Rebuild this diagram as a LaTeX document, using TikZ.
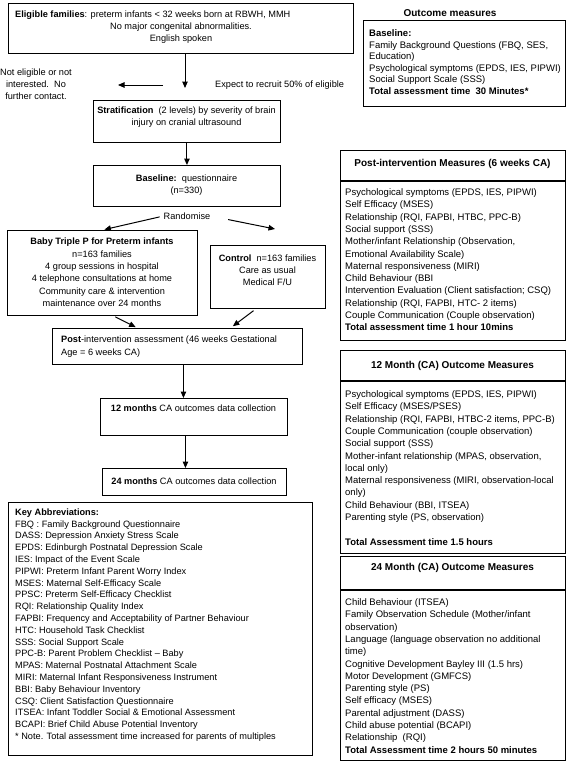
\documentclass[tikz,border=0pt]{standalone}
\usepackage{fontspec}
\setmainfont{Liberation Sans}
\usetikzlibrary{arrows.meta,positioning,calc}

\begin{document}
\begin{tikzpicture}[x=1pt,y=-1pt,
  box/.style={draw, line width=0.9pt, inner sep=0pt, anchor=north west},
  obox/.style={box, line width=1.2pt},
  txt/.style={font=\fontsize{9.2}{12.3}\selectfont, inner sep=0pt},
  otxt/.style={font=\fontsize{9.5}{12.3}\selectfont, inner sep=0pt, anchor=north west, align=left},
  head/.style={font=\fontsize{10}{12}\selectfont\bfseries, inner sep=0pt},
  keytxt/.style={font=\fontsize{9.2}{11.8}\selectfont, inner sep=0pt, align=left},
  arr/.style={-{Triangle[length=6.5pt,width=5.5pt]}, line width=1pt}]
\useasboundingbox (0,0) rectangle (567,763);
\fill[white] (0,0) rectangle (567,763);

\node[box, minimum width=345pt, minimum height=50pt] (elig) at (8,3) {};
\node[txt, anchor=north west] (eligA) at (15,10.5) {\textbf{Eligible families}: preterm infants < 32 weeks born at RBWH, MMH};
\node[txt, anchor=north, align=center] (eligB) at (181,22.5) {No major congenital abnormalities.\\English spoken};

\node[txt, anchor=north, align=center] (notel) at (36,68.5) {Not eligible or not\\interested.\ \ No\\further contact.};
\node[txt, anchor=west] (expect) at (215,85) {Expect to recruit 50\% of eligible};
\coordinate (exclude) at (118,85);

\node[box, minimum width=187pt, minimum height=42pt] (strat) at (93,100) {};
\node[txt, anchor=north, align=center] (strattxt) at (186.5,106.5) {\textbf{Stratification}\ \ (2 levels) by severity of brain\\injury on cranial ultrasound};

\node[box, minimum width=187pt, minimum height=41pt] (base) at (93,165) {};
\node[txt, anchor=north, align=center] (basetxt) at (186.5,174.5) {\textbf{Baseline:}\ \ questionnaire\\(n=330)};

\node[txt] (rand) at (187,216) {Randomise};

\node[box, minimum width=190pt, minimum height=85pt] (baby) at (7,230) {};
\node[txt, anchor=north, align=center] (babytxt) at (102,238) {\textbf{Baby Triple P for Preterm infants}\\n=163 families\\4 group sessions in hospital\\4 telephone consultations at home\\Community care \& intervention\\maintenance over 24 months};

\node[box, minimum width=115pt, minimum height=63pt] (ctrl) at (210,245) {};
\node[txt, anchor=north, align=center] (ctrltxt) at (267.5,254.5) {\textbf{Control}\ \ n=163 families\\Care as usual\\Medical F/U};
\coordinate (ctrlin) at (275,229);

\node[box, minimum width=250pt, minimum height=36pt] (post) at (52,328) {};
\node[txt, anchor=north west, align=left] (posttxt) at (61,336) {\textbf{Post}-intervention assessment (46 weeks Gestational\\Age = 6 weeks CA)};

\node[box, minimum width=187pt, minimum height=37pt] (twelve) at (100,398) {};
\node[txt, anchor=north] (twelvetxt) at (193.5,405) {\textbf{12 months} CA outcomes data collection};

\node[box, minimum width=184pt, minimum height=27pt] (twfour) at (102,468) {};
\node[txt] (twfourtxt) at (194,481.5) {\textbf{24 months} CA outcomes data collection};

\node[box, minimum width=304pt, minimum height=253pt] (key) at (8,502) {};
\node[keytxt, anchor=north west] (keytxt) at (15,508.5) {\textbf{Key Abbreviations:}\\
FBQ : Family Background Questionnaire\\
DASS: Depression Anxiety Stress Scale\\
EPDS: Edinburgh Postnatal Depression Scale\\
IES: Impact of the Event Scale\\
PIPWI: Preterm Infant Parent Worry Index\\
MSES: Maternal Self-Efficacy Scale\\
PPSC: Preterm Self-Efficacy Checklist\\
RQI: Relationship Quality Index\\
FAPBI: Frequency and Acceptability of Partner Behaviour\\
HTC: Household Task Checklist\\
SSS: Social Support Scale\\
PPC-B: Parent Problem Checklist -- Baby\\
MPAS: Maternal Postnatal Attachment Scale\\
MIRI: Maternal Infant Responsiveness Instrument\\
BBI: Baby Behaviour Inventory\\
CSQ: Client Satisfaction Questionnaire\\
ITSEA: Infant Toddler Social \& Emotional Assessment\\
BCAPI: Brief Child Abuse Potential Inventory\\
* Note. Total assessment time increased for parents of multiples};

\draw[arr] (elig.south -| 185,0) -- (185,88);
\draw[arr] (163,85) -- (exclude);
\draw[arr] (strat.south) -- (base.north);
\draw[arr, shorten <=4pt, shorten >=2pt] (rand.west) -- (baby.north);
\draw[arr, shorten <=18pt] (rand.east) -- (ctrlin);
\draw[arr, shorten <=2pt, shorten >=2pt] ([xshift=11pt]baby.south) -- ([xshift=-40pt]post.north);
\draw[arr, shorten <=3pt, shorten >=3pt] ([xshift=-12pt]ctrl.south) -- ([xshift=53pt]post.north);
\draw[arr] ([xshift=6pt]post.south) -- ([xshift=6pt]post.south |- twelve.north);
\draw[arr] ([xshift=-8.5pt]twelve.south) -- ([xshift=-8.5pt]twelve.south |- twfour.north);

\node[head] (otitle) at (450,13) {Outcome measures};
\node[obox, minimum width=202pt, minimum height=86pt] (obase) at (363,20) {};
\node[otxt, font=\fontsize{9.5}{11.5}\selectfont] (obasetxt) at (369,29.5) {\textbf{Baseline:}\\Family Background Questions (FBQ, SES,\\Education)\\Psychological symptoms (EPDS, IES, PIPWI)\\Social Support Scale (SSS)\\\textbf{Total assessment time\ \ 30 Minutes*}};

\node[obox, minimum width=225pt, minimum height=190pt] (opost) at (340,150) {};
\draw[line width=1.2pt] ([yshift=-31pt]opost.north west) -- ([yshift=-31pt]opost.north east);
\node[head] (oposthead) at (452.5,164) {Post-intervention Measures (6 weeks CA)};
\node[otxt] (oposttxt) at (345,188.5) {Psychological symptoms (EPDS, IES, PIPWI)\\Self Efficacy (MSES)\\Relationship (RQI, FAPBI, HTBC, PPC-B)\\Social support (SSS)\\Mother/infant Relationship (Observation,\\Emotional Availability Scale)\\Maternal responsiveness (MIRI)\\Child Behaviour (BBI\\Intervention Evaluation (Client satisfaction; CSQ)\\Relationship (RQI, FAPBI, HTC- 2 items)\\Couple Communication (Couple observation)\\\textbf{Total assessment time 1 hour 10mins}};

\node[obox, minimum width=225pt, minimum height=203pt] (otwelve) at (340,350) {};
\draw[line width=1.2pt] ([yshift=-31pt]otwelve.north west) -- ([yshift=-31pt]otwelve.north east);
\node[head] (otwelvehead) at (452.5,366) {12 Month (CA) Outcome Measures};
\node[otxt] (otwelvetxt) at (345,390.5) {Psychological symptoms (EPDS, IES, PIPWI)\\Self Efficacy (MSES/PSES)\\Relationship (RQI, FAPBI, HTBC-2 items, PPC-B)\\Couple Communication (couple observation)\\Social support (SSS)\\Mother-infant relationship (MPAS, observation,\\local only)\\Maternal responsiveness (MIRI, observation-local\\only)\\Child Behaviour (BBI, ITSEA)\\Parenting style (PS, observation)\\[12.3pt]\textbf{Total Assessment time 1.5 hours}};

\node[obox, minimum width=225pt, minimum height=204pt] (otwfour) at (340,556) {};
\draw[line width=1.2pt] ([yshift=-34pt]otwfour.north west) -- ([yshift=-34pt]otwfour.north east);
\node[head] (otwfourhead) at (452.5,568) {24 Month (CA) Outcome Measures};
\node[otxt] (otwfourtxt) at (345,598.5) {Child Behaviour (ITSEA)\\Family Observation Schedule (Mother/infant\\observation)\\Language (language observation no additional\\time)\\Cognitive Development Bayley III (1.5 hrs)\\Motor Development (GMFCS)\\Parenting style (PS)\\Self efficacy (MSES)\\Parental adjustment (DASS)\\Child abuse potential (BCAPI)\\Relationship\ \ (RQI)\\\textbf{Total Assessment time 2 hours 50 minutes}};
\end{tikzpicture}
\end{document}
